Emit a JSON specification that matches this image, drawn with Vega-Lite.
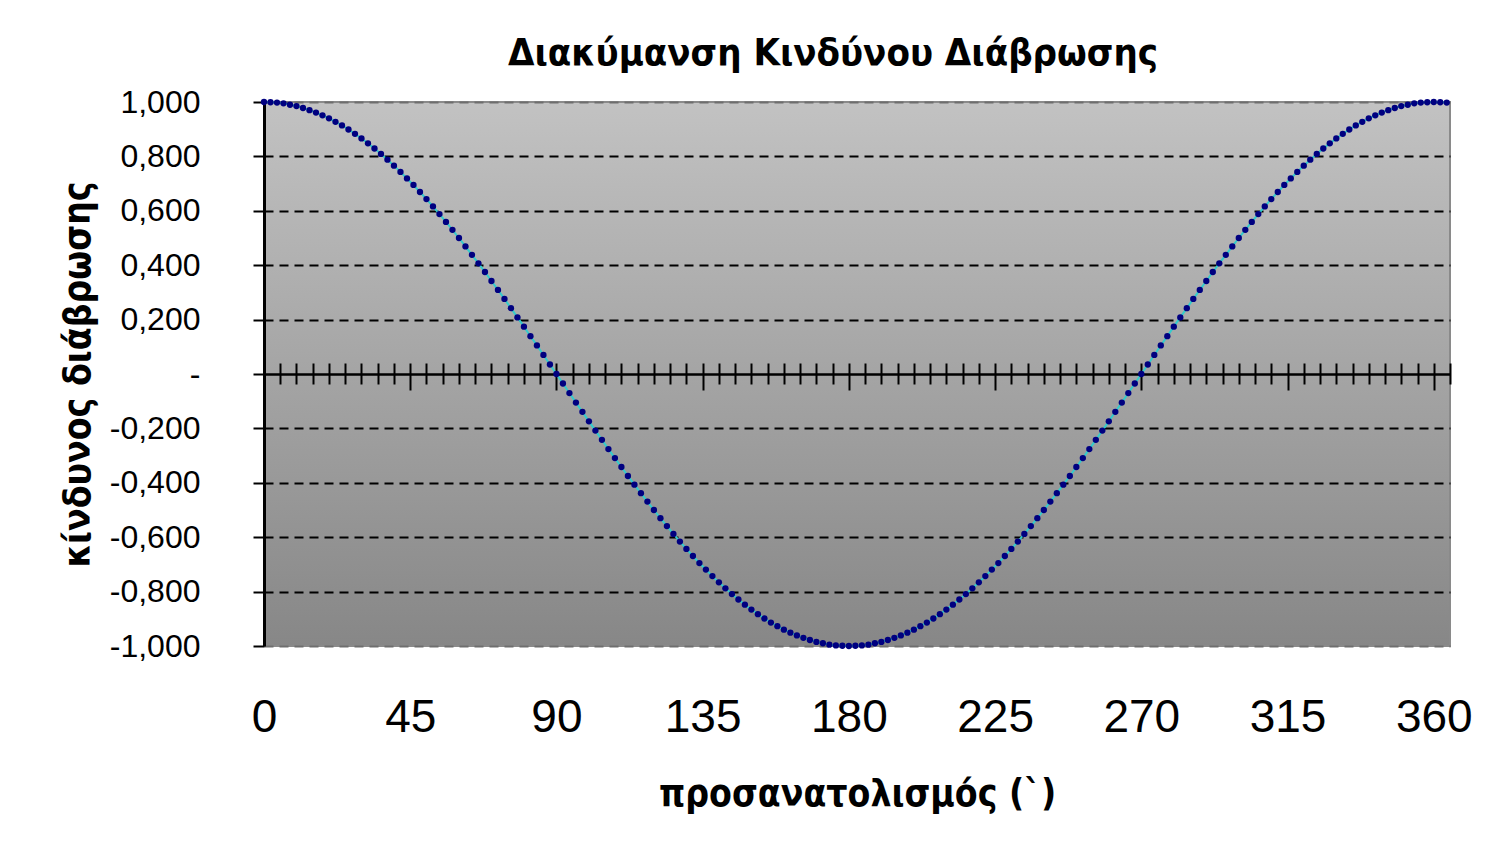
{
  "$schema": "https://vega.github.io/schema/vega-lite/v6.json",
  "width": 1186,
  "height": 544,
  "autosize": {"type": "none"},
  "padding": {"left": 264, "top": 102, "right": 38, "bottom": 204},
  "background": "white",
  "config": {
    "view": {
      "stroke": "#8a8a8a",
      "strokeWidth": 2,
      "fill": {"gradient": "linear", "x1": 0, "y1": 0, "x2": 0, "y2": 1, "stops": [{"offset": 0, "color": "#c2c2c2"}, {"offset": 1, "color": "#878787"}]}
    },
    "font": "Liberation Sans"
  },
  "title": {
    "text": "Διακύμανση Κινδύνου Διάβρωσης",
    "font": "'DejaVu Sans Condensed', 'DejaVu Sans'",
    "fontWeight": "bold",
    "fontSize": 38,
    "color": "black",
    "anchor": "middle",
    "frame": "group",
    "dx": -24,
    "dy": 38,
    "baseline": "alphabetic",
    "offset": 21
  },
  "data": {"values": [
    {"angle":0,"risk":1},{"angle":2,"risk":0.999},{"angle":4,"risk":0.998},{"angle":6,"risk":0.995},{"angle":8,"risk":0.990},{"angle":10,"risk":0.985},{"angle":12,"risk":0.978},{"angle":14,"risk":0.970},{"angle":16,"risk":0.961},{"angle":18,"risk":0.951},{"angle":20,"risk":0.940},{"angle":22,"risk":0.927},{"angle":24,"risk":0.914},{"angle":26,"risk":0.899},{"angle":28,"risk":0.883},{"angle":30,"risk":0.866},{"angle":32,"risk":0.848},{"angle":34,"risk":0.829},{"angle":36,"risk":0.809},{"angle":38,"risk":0.788},{"angle":40,"risk":0.766},{"angle":42,"risk":0.743},{"angle":44,"risk":0.719},{"angle":46,"risk":0.695},{"angle":48,"risk":0.669},{"angle":50,"risk":0.643},{"angle":52,"risk":0.616},{"angle":54,"risk":0.588},{"angle":56,"risk":0.559},{"angle":58,"risk":0.530},{"angle":60,"risk":0.5},{"angle":62,"risk":0.469},{"angle":64,"risk":0.438},{"angle":66,"risk":0.407},{"angle":68,"risk":0.375},{"angle":70,"risk":0.342},{"angle":72,"risk":0.309},{"angle":74,"risk":0.276},{"angle":76,"risk":0.242},{"angle":78,"risk":0.208},{"angle":80,"risk":0.174},{"angle":82,"risk":0.139},{"angle":84,"risk":0.105},{"angle":86,"risk":0.070},{"angle":88,"risk":0.035},{"angle":90,"risk":0},
    {"angle":92,"risk":-0.035},{"angle":94,"risk":-0.070},{"angle":96,"risk":-0.105},{"angle":98,"risk":-0.139},{"angle":100,"risk":-0.174},{"angle":102,"risk":-0.208},{"angle":104,"risk":-0.242},{"angle":106,"risk":-0.276},{"angle":108,"risk":-0.309},{"angle":110,"risk":-0.342},{"angle":112,"risk":-0.375},{"angle":114,"risk":-0.407},{"angle":116,"risk":-0.438},{"angle":118,"risk":-0.469},{"angle":120,"risk":-0.5},{"angle":122,"risk":-0.530},{"angle":124,"risk":-0.559},{"angle":126,"risk":-0.588},{"angle":128,"risk":-0.616},{"angle":130,"risk":-0.643},{"angle":132,"risk":-0.669},{"angle":134,"risk":-0.695},{"angle":136,"risk":-0.719},{"angle":138,"risk":-0.743},{"angle":140,"risk":-0.766},{"angle":142,"risk":-0.788},{"angle":144,"risk":-0.809},{"angle":146,"risk":-0.829},{"angle":148,"risk":-0.848},{"angle":150,"risk":-0.866},{"angle":152,"risk":-0.883},{"angle":154,"risk":-0.899},{"angle":156,"risk":-0.914},{"angle":158,"risk":-0.927},{"angle":160,"risk":-0.940},{"angle":162,"risk":-0.951},{"angle":164,"risk":-0.961},{"angle":166,"risk":-0.970},{"angle":168,"risk":-0.978},{"angle":170,"risk":-0.985},{"angle":172,"risk":-0.990},{"angle":174,"risk":-0.995},{"angle":176,"risk":-0.998},{"angle":178,"risk":-0.999},{"angle":180,"risk":-1},
    {"angle":182,"risk":-0.999},{"angle":184,"risk":-0.998},{"angle":186,"risk":-0.995},{"angle":188,"risk":-0.990},{"angle":190,"risk":-0.985},{"angle":192,"risk":-0.978},{"angle":194,"risk":-0.970},{"angle":196,"risk":-0.961},{"angle":198,"risk":-0.951},{"angle":200,"risk":-0.940},{"angle":202,"risk":-0.927},{"angle":204,"risk":-0.914},{"angle":206,"risk":-0.899},{"angle":208,"risk":-0.883},{"angle":210,"risk":-0.866},{"angle":212,"risk":-0.848},{"angle":214,"risk":-0.829},{"angle":216,"risk":-0.809},{"angle":218,"risk":-0.788},{"angle":220,"risk":-0.766},{"angle":222,"risk":-0.743},{"angle":224,"risk":-0.719},{"angle":226,"risk":-0.695},{"angle":228,"risk":-0.669},{"angle":230,"risk":-0.643},{"angle":232,"risk":-0.616},{"angle":234,"risk":-0.588},{"angle":236,"risk":-0.559},{"angle":238,"risk":-0.530},{"angle":240,"risk":-0.5},{"angle":242,"risk":-0.469},{"angle":244,"risk":-0.438},{"angle":246,"risk":-0.407},{"angle":248,"risk":-0.375},{"angle":250,"risk":-0.342},{"angle":252,"risk":-0.309},{"angle":254,"risk":-0.276},{"angle":256,"risk":-0.242},{"angle":258,"risk":-0.208},{"angle":260,"risk":-0.174},{"angle":262,"risk":-0.139},{"angle":264,"risk":-0.105},{"angle":266,"risk":-0.070},{"angle":268,"risk":-0.035},{"angle":270,"risk":0},
    {"angle":272,"risk":0.035},{"angle":274,"risk":0.070},{"angle":276,"risk":0.105},{"angle":278,"risk":0.139},{"angle":280,"risk":0.174},{"angle":282,"risk":0.208},{"angle":284,"risk":0.242},{"angle":286,"risk":0.276},{"angle":288,"risk":0.309},{"angle":290,"risk":0.342},{"angle":292,"risk":0.375},{"angle":294,"risk":0.407},{"angle":296,"risk":0.438},{"angle":298,"risk":0.469},{"angle":300,"risk":0.5},{"angle":302,"risk":0.530},{"angle":304,"risk":0.559},{"angle":306,"risk":0.588},{"angle":308,"risk":0.616},{"angle":310,"risk":0.643},{"angle":312,"risk":0.669},{"angle":314,"risk":0.695},{"angle":316,"risk":0.719},{"angle":318,"risk":0.743},{"angle":320,"risk":0.766},{"angle":322,"risk":0.788},{"angle":324,"risk":0.809},{"angle":326,"risk":0.829},{"angle":328,"risk":0.848},{"angle":330,"risk":0.866},{"angle":332,"risk":0.883},{"angle":334,"risk":0.899},{"angle":336,"risk":0.914},{"angle":338,"risk":0.927},{"angle":340,"risk":0.940},{"angle":342,"risk":0.951},{"angle":344,"risk":0.961},{"angle":346,"risk":0.970},{"angle":348,"risk":0.978},{"angle":350,"risk":0.985},{"angle":352,"risk":0.990},{"angle":354,"risk":0.995},{"angle":356,"risk":0.998},{"angle":358,"risk":0.999},{"angle":360,"risk":1},{"angle":362,"risk":0.999},{"angle":364,"risk":0.998}
  ]},
  "encoding": {
    "y": {
      "field": "risk",
      "type": "quantitative",
      "scale": {"domain": [-1, 1], "nice": false, "zero": false},
      "axis": {
        "title": "κίνδυνος διάβρωσης",
        "titleFont": "'DejaVu Sans Condensed', 'DejaVu Sans'",
        "titleFontSize": 37,
        "titleFontWeight": "bold",
        "titleColor": "black",
        "titlePadding": 12,
        "values": [-1, -0.8, -0.6, -0.4, -0.2, 0, 0.2, 0.4, 0.6, 0.8, 1],
        "labelExpr": "datum.value == 0 ? '-' : replace(replace(format(datum.value, '.3f'), '.', ','), '\u2212', '-')",
        "labelFont": "Liberation Sans",
        "labelFontSize": 32,
        "labelColor": "black",
        "labelPadding": 53,
        "labelFlush": false,
        "labelOverlap": false,
        "domainColor": "black",
        "domainWidth": 3,
        "ticks": true,
        "tickColor": "black",
        "tickWidth": 2,
        "tickSize": 11,
        "grid": true,
        "gridColor": {"condition": {"test": "abs(datum.value) == 1", "value": "#6e6e6e"}, "value": "black"},
        "gridDash": {"condition": {"test": "datum.value == 0", "value": []}, "value": [9, 6]},
        "gridWidth": {"condition": {"test": "datum.value == 0", "value": 2.5}, "value": 2}
      }
    }
  },
  "layer": [
    {
      "mark": {"type": "line", "color": "#33CCCC", "strokeWidth": 2},
      "encoding": {
        "x": {
          "field": "angle",
          "type": "quantitative",
          "scale": {"domain": [0, 365], "nice": false, "zero": false},
          "axis": {
            "orient": "bottom",
            "values": [0, 45, 90, 135, 180, 225, 270, 315, 360],
            "domain": false,
            "ticks": false,
            "grid": false,
            "labelFont": "Liberation Sans",
            "labelFontSize": 46,
            "labelColor": "black",
            "labelPadding": 49,
            "labelFlush": false,
            "labelOverlap": false,
            "title": "προσανατολισμός (`)",
            "titleFont": "'DejaVu Sans Condensed', 'DejaVu Sans'",
            "titleFontSize": 37,
            "titleFontWeight": "bold",
            "titleColor": "black",
            "titlePadding": 36
          }
        }
      }
    },
    {
      "mark": {"type": "point", "filled": true, "color": "#000080", "size": 40, "opacity": 1},
      "encoding": {
        "x": {
          "field": "angle",
          "type": "quantitative",
          "scale": {"domain": [0, 365], "nice": false, "zero": false},
          "axis": {
            "orient": "bottom",
            "offset": -283,
            "values": [0, 5, 10, 15, 20, 25, 30, 35, 40, 45, 50, 55, 60, 65, 70, 75, 80, 85, 90, 95, 100, 105, 110, 115, 120, 125, 130, 135, 140, 145, 150, 155, 160, 165, 170, 175, 180, 185, 190, 195, 200, 205, 210, 215, 220, 225, 230, 235, 240, 245, 250, 255, 260, 265, 270, 275, 280, 285, 290, 295, 300, 305, 310, 315, 320, 325, 330, 335, 340, 345, 350, 355, 360, 365],
            "domain": false,
            "labels": false,
            "grid": false,
            "ticks": true,
            "tickColor": "black",
            "tickWidth": 2,
            "tickSize": {"condition": {"test": "datum.value % 45 == 0", "value": 27}, "value": 21},
            "title": null
          }
        }
      }
    }
  ],
  "resolve": {"axis": {"x": "independent"}}
}
